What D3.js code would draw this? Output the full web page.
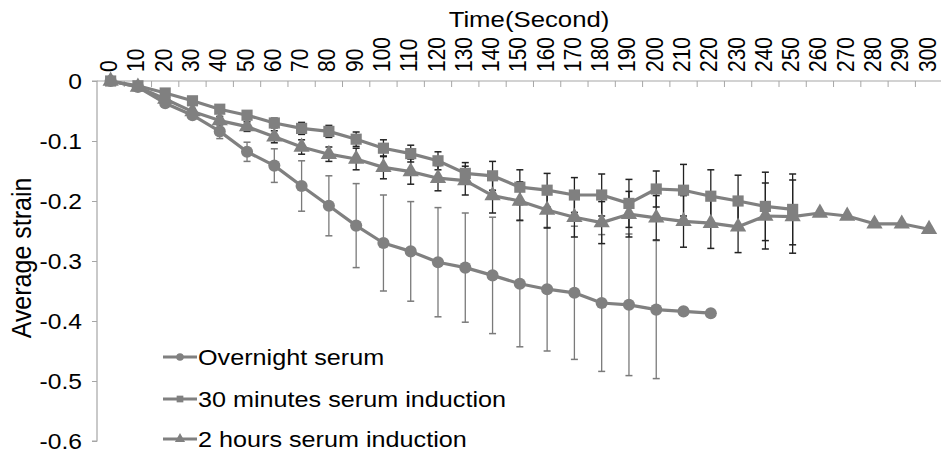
<!DOCTYPE html>
<html>
<head>
<meta charset="utf-8">
<script src="https://cdn.jsdelivr.net/npm/d3@7"></script>
<style>
  html, body { margin: 0; padding: 0; background: #fff; }
  svg { display: block; }
  text { font-family: "Liberation Sans", Arial, sans-serif; fill: #000; }
</style>
</head>
<body>
<svg id="chart" width="941" height="454"></svg>
<script>
// ---------------- data ----------------
const categories = [0,10,20,30,40,50,60,70,80,90,100,110,120,130,140,150,160,170,180,190,200,210,220,230,240,250,260,270,280,290,300];

const overnight = [0,-0.01,-0.037,-0.057,-0.084,-0.118,-0.141,-0.175,-0.208,-0.241,-0.27,-0.284,-0.302,-0.311,-0.324,-0.338,-0.347,-0.353,-0.37,-0.373,-0.381,-0.384,-0.387];
const overnightErr = [0,0.002,0.004,0.006,0.012,0.016,0.028,0.042,0.05,0.07,0.08,0.083,0.091,0.091,0.097,0.105,0.103,0.111,0.114,0.118,0.115,0,0];

const minutes30 = [0,-0.008,-0.02,-0.033,-0.047,-0.057,-0.07,-0.079,-0.084,-0.097,-0.112,-0.121,-0.133,-0.154,-0.158,-0.177,-0.182,-0.19,-0.19,-0.204,-0.18,-0.182,-0.192,-0.2,-0.209,-0.214];
const minutes30Err = [0,0.002,0.004,0.005,0.006,0.007,0.008,0.01,0.01,0.012,0.014,0.014,0.015,0.018,0.024,0.029,0.028,0.029,0.035,0.04,0.03,0.043,0.044,0.043,0.057,0.059];

const hours2 = [0,-0.01,-0.03,-0.051,-0.066,-0.076,-0.093,-0.11,-0.122,-0.13,-0.144,-0.151,-0.162,-0.166,-0.191,-0.2,-0.215,-0.227,-0.236,-0.222,-0.228,-0.234,-0.237,-0.243,-0.225,-0.226,-0.22,-0.225,-0.238,-0.238,-0.247];
const hours2Err = [0,0.002,0.004,0.005,0.007,0.008,0.01,0.012,0.012,0.018,0.019,0.021,0.021,0.024,0.029,0.032,0.03,0.033,0.035,0.038,0.037,0.043,0.042,0.043,0.055,0.061,0,0,0,0,0];

const yTicks = [0,-0.1,-0.2,-0.3,-0.4,-0.5,-0.6];
const yTickLabels = ["0","-0.1","-0.2","-0.3","-0.4","-0.5","-0.6"];
const seriesNames = ["Overnight serum","30 minutes serum induction","2 hours serum induction"];
const xTitle = "Time(Second)";
const yTitle = "Average strain";

// ---------------- layout ----------------
(function draw() {
const SX = 1.12; // horizontal text stretch seen in the reference
const svg = d3.select("#chart");
const plotLeft = 97, plotTop = 81, plotBottom = 441;
const step = 27.28;
const x = d3.scaleBand().domain(categories).range([plotLeft, plotLeft + step * categories.length]).paddingInner(0).paddingOuter(0);
const cx = v => x(v) + x.bandwidth() / 2;
const y = d3.scaleLinear().domain([-0.6, 0]).range([plotBottom, plotTop]);

const axisColor = "#a6a6a6";
const seriesColor = "#808080";

// Y axis
const yAxis = d3.axisLeft(y).tickValues(yTicks).tickSize(5).tickFormat("");
const gy = svg.append("g").attr("transform", `translate(${plotLeft},0)`).call(yAxis);
gy.select(".domain").attr("stroke", axisColor).attr("stroke-width", 1.2).attr("d", `M-5,${plotBottom}H0V${plotTop}H-5`);
gy.selectAll(".tick line").attr("stroke", axisColor);
yTicks.forEach((t, i) => {
  svg.append("text")
    .attr("transform", `translate(${plotLeft - 15},${y(t) + 8}) scale(${SX},1)`)
    .attr("text-anchor", "end")
    .attr("font-size", 22)
    .text(yTickLabels[i]);
});

// X axis (top)
const edges = categories.map(c => x(c)).concat([x(categories[categories.length - 1]) + x.bandwidth()]);
svg.append("line").attr("x1", plotLeft).attr("x2", 941).attr("y1", plotTop).attr("y2", plotTop)
  .attr("stroke", axisColor).attr("stroke-width", 1.2);
svg.append("g").selectAll("line").data(edges.slice(1)).join("line")
  .attr("x1", d => d).attr("x2", d => d).attr("y1", plotTop).attr("y2", plotTop + 6)
  .attr("stroke", axisColor).attr("stroke-width", 1);
categories.forEach(c => {
  svg.append("text")
    .attr("transform", `translate(${cx(c) + 6.5},72) scale(${SX},1) rotate(-90)`)
    .attr("text-anchor", "start")
    .attr("font-size", 21)
    .text(String(c));
});
svg.append("text")
  .attr("transform", `translate(529,27) scale(${SX},1)`)
  .attr("text-anchor", "middle")
  .attr("font-size", 23)
  .text(xTitle);
svg.append("text")
  .attr("transform", `translate(31,258) scale(${SX},1) rotate(-90)`)
  .attr("text-anchor", "middle")
  .attr("font-size", 25)
  .text(yTitle);

// ---------------- series ----------------
const series = [
  { name: seriesNames[0], vals: overnight, err: overnightErr, shape: d3.symbolCircle, size: 115, errColor: "#7a7a7a" },
  { name: seriesNames[1], vals: minutes30, err: minutes30Err, shape: d3.symbolSquare, size: 125, errColor: "#222" },
  { name: seriesNames[2], vals: hours2, err: hours2Err, shape: d3.symbolTriangle, size: 115, errColor: "#222" }
];

// error bars first
series.forEach(s => {
  const g = svg.append("g");
  s.vals.forEach((v, i) => {
    const e = s.err[i];
    if (!e) return;
    const xx = cx(categories[i]);
    g.append("line").attr("x1", xx).attr("x2", xx).attr("y1", y(v + e)).attr("y2", y(v - e))
      .attr("stroke", s.errColor).attr("stroke-width", 1.3);
    [v + e, v - e].forEach(w => {
      g.append("line").attr("x1", xx - 3.5).attr("x2", xx + 3.5).attr("y1", y(w)).attr("y2", y(w))
        .attr("stroke", s.errColor).attr("stroke-width", 1.5);
    });
  });
});

const line = d3.line().x((d, i) => cx(categories[i])).y(d => y(d));
series.forEach(s => {
  svg.append("path").datum(s.vals).attr("d", line)
    .attr("fill", "none").attr("stroke", seriesColor).attr("stroke-width", 3.2).attr("stroke-linejoin", "round");
  svg.append("g").selectAll("path").data(s.vals).join("path")
    .attr("transform", (d, i) => `translate(${cx(categories[i])},${y(d)})`)
    .attr("d", d3.symbol().type(s.shape).size(s.size))
    .attr("fill", seriesColor);
});

// ---------------- legend ----------------
const legendRows = [357, 399, 439];
series.forEach((s, i) => {
  const ly = legendRows[i];
  svg.append("line").attr("x1", 163).attr("x2", 197).attr("y1", ly).attr("y2", ly)
    .attr("stroke", seriesColor).attr("stroke-width", 3);
  svg.append("path").attr("transform", `translate(180,${ly})`)
    .attr("d", d3.symbol().type(s.shape).size(45)).attr("fill", seriesColor);
  svg.append("text")
    .attr("transform", `translate(198,${ly + 8}) scale(${SX},1)`)
    .attr("font-size", 22.5)
    .text(s.name);
});
})();
</script>
</body>
</html>
